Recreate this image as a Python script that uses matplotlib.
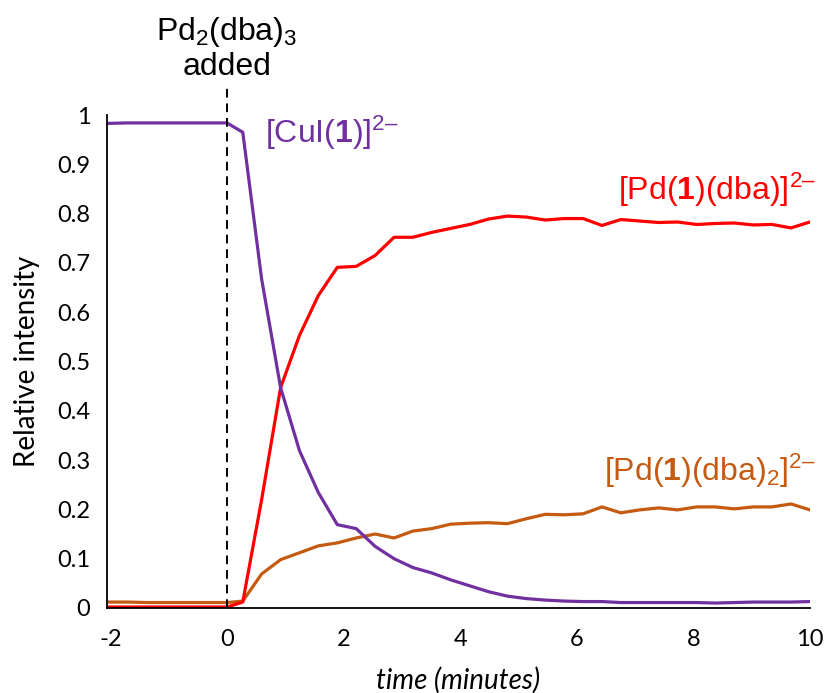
import numpy as np
import matplotlib
matplotlib.use("Agg")
import matplotlib.pyplot as plt

# time (minutes): before addition, then the sampled points after Pd2(dba)3 was added
t_pre = [-2.06, -1.72, -1.37, -1.03, -0.69, -0.34, 0.0]
t_post = [0.27, 0.594, 0.919, 1.243, 1.567, 1.892, 2.216, 2.54, 2.865, 3.189,
          3.514, 3.838, 4.162, 4.487, 4.811, 5.135, 5.46, 5.784, 6.108, 6.433,
          6.757, 7.081, 7.406, 7.73, 8.054, 8.378, 8.703, 9.027, 9.351, 9.676, 10.0]

cui_pre = [0.983, 0.984, 0.984, 0.984, 0.984, 0.984, 0.984]
cui_post = [0.965, 0.667, 0.447, 0.319, 0.234, 0.169, 0.161, 0.125, 0.100, 0.082,
            0.071, 0.057, 0.045, 0.033, 0.024, 0.019, 0.016, 0.014, 0.013, 0.013,
            0.011, 0.011, 0.011, 0.011, 0.011, 0.010, 0.011, 0.012, 0.012, 0.012, 0.013]

pd_dba_pre = [0.002, 0.002, 0.002, 0.002, 0.002, 0.002, 0.002]
pd_dba_post = [0.012, 0.220, 0.447, 0.553, 0.634, 0.691, 0.693, 0.715, 0.752, 0.752,
               0.762, 0.770, 0.778, 0.789, 0.795, 0.793, 0.787, 0.790, 0.790, 0.776,
               0.788, 0.785, 0.782, 0.783, 0.778, 0.780, 0.781, 0.777, 0.778, 0.771, 0.783]

pd_dba2_pre = [0.012, 0.012, 0.011, 0.011, 0.011, 0.011, 0.011]
pd_dba2_post = [0.014, 0.069, 0.098, 0.112, 0.126, 0.132, 0.142, 0.150, 0.142, 0.156,
                0.161, 0.170, 0.172, 0.173, 0.171, 0.181, 0.190, 0.189, 0.191, 0.205,
                0.193, 0.199, 0.203, 0.199, 0.205, 0.205, 0.201, 0.205, 0.205, 0.211, 0.199]

t = t_pre + t_post
cui = cui_pre + cui_post
pd_dba = pd_dba_pre + pd_dba_post
pd_dba2 = pd_dba2_pre + pd_dba2_post

x_ticks = [-2, 0, 2, 4, 6, 8, 10]
y_ticks = [0, 0.1, 0.2, 0.3, 0.4, 0.5, 0.6, 0.7, 0.8, 0.9, 1.0]
y_ticklabels = ["0", "0.1", "0.2", "0.3", "0.4", "0.5", "0.6", "0.7", "0.8", "0.9", "1"]

PURPLE = "#7030A0"
RED = "#FF0000"
ORANGE = "#C55A11"

plt.rcParams["mathtext.fontset"] = "custom"
plt.rcParams["mathtext.rm"] = "Liberation Sans"
plt.rcParams["mathtext.bf"] = "Liberation Sans:bold"
plt.rcParams["mathtext.it"] = "Liberation Sans:italic"

fig = plt.figure(figsize=(8.26, 6.93), dpi=100)
ax = fig.add_axes([0.1295, 0.1227, 0.851, 0.7113])

ax.plot(t, pd_dba2, color=ORANGE, lw=2.3, solid_joinstyle="round")
ax.plot(t, pd_dba, color=RED, lw=2.3, solid_joinstyle="round")
ax.plot(t, cui, color=PURPLE, lw=2.3, solid_joinstyle="round")

# addition marker
ax.plot([0, 0], [0, 1.055], color="black", lw=1.4, ls=(0, (4.5, 3)), clip_on=False)

ax.set_xlim(-2.06, 10)
ax.set_ylim(0, 1)
ax.set_xticks(x_ticks)
ax.set_xticklabels([str(v) for v in x_ticks], fontfamily="Lato", fontsize=17)
ax.set_yticks(y_ticks)
ax.set_yticklabels(y_ticklabels, fontfamily="Lato", fontsize=17)
ax.tick_params(axis="both", length=0)
ax.tick_params(axis="x", pad=15)
ax.tick_params(axis="y", pad=12)

for side in ["top", "right"]:
    ax.spines[side].set_visible(False)
ax.spines["left"].set_linewidth(1.3)
ax.spines["bottom"].set_linewidth(1.3)

ax.set_ylabel("Relative intensity", fontfamily="Lato", fontsize=20, labelpad=12)
ax.set_xlabel("time (minutes)", fontfamily="Lato", fontsize=20, style="italic", labelpad=12)

ax.text(0, 1.168, r"Pd$_\mathrm{2}$(dba)$_\mathrm{3}$", ha="center", va="center",
        fontsize=23, fontfamily="Liberation Sans", clip_on=False)
ax.text(0, 1.097, "added", ha="center", va="center",
        fontsize=23, fontfamily="Liberation Sans", clip_on=False)

ax.text(0.65, 0.963, r"[CuI($\mathbf{1}$)]$^\mathrm{2–}$", color=PURPLE, ha="left", va="center",
        fontsize=23, fontfamily="Liberation Sans")
ax.text(10.1, 0.848, r"[Pd($\mathbf{1}$)(dba)]$^\mathrm{2–}$", color=RED, ha="right", va="center",
        fontsize=23, fontfamily="Liberation Sans", clip_on=False)
ax.text(10.1, 0.278, r"[Pd($\mathbf{1}$)(dba)$_\mathrm{2}$]$^\mathrm{2–}$", color=ORANGE, ha="right",
        va="center", fontsize=23, fontfamily="Liberation Sans", clip_on=False)

plt.savefig("out.png", dpi=100)
